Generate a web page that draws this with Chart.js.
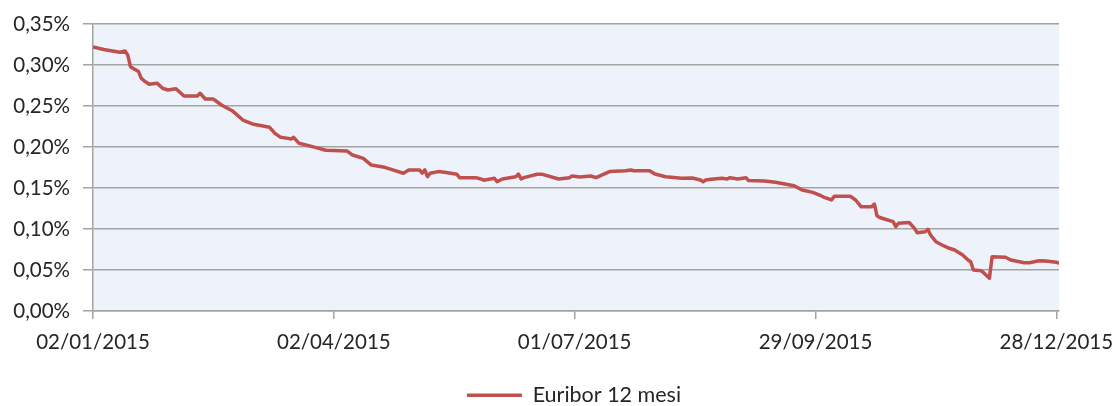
<!DOCTYPE html>
<html>
<head>
<meta charset="utf-8">
<script src="https://cdn.jsdelivr.net/npm/chart.js@4"></script>
<style>
  html, body { margin: 0; padding: 0; background: #ffffff; }
  #wrap { width: 1116px; height: 406px; position: relative; }
</style>
</head>
<body>
<div id="wrap"><canvas id="c" width="1116" height="406"></canvas></div>
<script>
// ---- data ----
const seriesName = "Euribor 12 mesi";
const dates = [
  "2015-01-02","2015-01-06","2015-01-12","2015-01-14","2015-01-15","2015-01-16","2015-01-19","2015-01-20","2015-01-21","2015-01-23",
  "2015-01-26","2015-01-28","2015-01-30","2015-02-02","2015-02-05","2015-02-10","2015-02-11","2015-02-13","2015-02-16","2015-02-19",
  "2015-02-23","2015-02-27","2015-03-03","2015-03-09","2015-03-11","2015-03-13","2015-03-16","2015-03-17","2015-03-18","2015-03-20",
  "2015-03-25","2015-03-30","2015-04-07","2015-04-09","2015-04-13","2015-04-16","2015-04-21","2015-04-24","2015-04-28","2015-04-30",
  "2015-05-04","2015-05-05","2015-05-06","2015-05-07","2015-05-08","2015-05-11","2015-05-14","2015-05-18","2015-05-19","2015-05-25",
  "2015-05-27","2015-05-28","2015-06-01","2015-06-02","2015-06-04","2015-06-09","2015-06-10","2015-06-11","2015-06-12","2015-06-17",
  "2015-06-19","2015-06-25","2015-06-29","2015-06-30","2015-07-03","2015-07-07","2015-07-09","2015-07-14","2015-07-20","2015-07-22",
  "2015-07-23","2015-07-29","2015-07-31","2015-08-04","2015-08-10","2015-08-14","2015-08-17","2015-08-18","2015-08-19","2015-08-21",
  "2015-08-25","2015-08-27","2015-08-28","2015-08-31","2015-09-03","2015-09-04","2015-09-10","2015-09-14","2015-09-18","2015-09-21",
  "2015-09-24","2015-09-28","2015-10-01","2015-10-02","2015-10-05","2015-10-06","2015-10-12","2015-10-14","2015-10-16","2015-10-20",
  "2015-10-21","2015-10-22","2015-10-23","2015-10-26","2015-10-28","2015-10-29","2015-10-30","2015-11-03","2015-11-05","2015-11-06",
  "2015-11-09","2015-11-10","2015-11-11","2015-11-13","2015-11-16","2015-11-18","2015-11-20","2015-11-23","2015-11-25","2015-11-26",
  "2015-11-27","2015-11-30","2015-12-01","2015-12-03","2015-12-04","2015-12-09","2015-12-11","2015-12-16","2015-12-18","2015-12-21",
  "2015-12-22","2015-12-24","2015-12-28","2015-12-29"
];
const rates = [
  0.322,0.319,0.3155,0.317,0.312,0.298,0.292,0.284,0.281,0.2765,
  0.2777,0.2716,0.2695,0.2711,0.2622,0.2622,0.2655,0.2585,0.2585,0.2512,
  0.2443,0.2329,0.2277,0.224,0.2167,0.212,0.2105,0.2098,0.2118,0.2045,
  0.2004,0.196,0.195,0.1902,0.1862,0.178,0.1752,0.172,0.168,0.172,
  0.172,0.168,0.172,0.1638,0.168,0.170,0.169,0.1667,0.1626,0.1626,
  0.161,0.1595,0.1618,0.1577,0.161,0.1638,0.167,0.161,0.1626,0.1667,
  0.1667,0.161,0.1626,0.1646,0.1634,0.1646,0.1626,0.170,0.171,0.172,
  0.171,0.171,0.167,0.1638,0.1618,0.1622,0.1598,0.1577,0.1598,0.1606,
  0.1618,0.161,0.1626,0.161,0.1626,0.159,0.1585,0.157,0.1545,0.1528,
  0.1476,0.1447,0.1406,0.139,0.1354,0.140,0.140,0.1354,0.1272,0.1272,
  0.1305,0.116,0.114,0.111,0.109,0.1028,0.107,0.108,0.1008,0.0955,
  0.0967,0.0996,0.0927,0.0845,0.0793,0.0765,0.0744,0.0683,0.0622,0.0601,
  0.050,0.0491,0.046,0.0399,0.0663,0.0655,0.0622,0.0589,0.0589,0.061,
  0.0614,0.061,0.0595,0.058
];
const xTickLabels = ["02/01/2015","02/04/2015","01/07/2015","29/09/2015","28/12/2015"];
const yTicks = [0, 0.05, 0.10, 0.15, 0.20, 0.25, 0.30, 0.35];

// ---- helpers ----
const DAY = 86400000;
const origin = Date.UTC(2015, 0, 2);
function isoToDay(s) { const p = s.split("-"); return (Date.UTC(+p[0], +p[1]-1, +p[2]) - origin) / DAY; }
function itToDay(s) { const p = s.split("/"); return (Date.UTC(+p[2], +p[1]-1, +p[0]) - origin) / DAY; }
function dayToIt(d) {
  const t = new Date(origin + d * DAY);
  const dd = String(t.getUTCDate()).padStart(2,"0"), mm = String(t.getUTCMonth()+1).padStart(2,"0");
  return dd + "/" + mm + "/" + t.getUTCFullYear();
}
const points = dates.map((d, i) => ({ x: isoToDay(d), y: rates[i] }));
const xTickValues = xTickLabels.map(itToDay);

const FONT = "Lato, 'Open Sans', sans-serif";
const GRID = "#A3A3A3";
const TEXT = "#262626";

const plotBg = {
  id: "plotBg",
  beforeDraw(chart) {
    const a = chart.chartArea, ctx = chart.ctx;
    ctx.save();
    ctx.fillStyle = "#EEF2FA";
    ctx.fillRect(a.left, a.top, a.right - a.left, a.bottom - a.top);
    ctx.restore();
  }
};

// place the legend box: centred a little right of the canvas centre and lower
const legendPlace = {
  id: "legendPlace",
  afterLayout(chart) {
    const lg = chart.legend;
    if (!lg) return;
    lg.left = chart.chartArea.left - 4;
    lg.right = chart.chartArea.right;
    lg.top += 10;
    lg.bottom += 10;
  }
};

new Chart(document.getElementById("c"), {
  type: "line",
  data: {
    datasets: [{
      label: seriesName,
      data: points,
      borderColor: "#C0504D",
      backgroundColor: "#C0504D",
      borderWidth: 3.5,
      pointRadius: 0,
      tension: 0,
      borderJoinStyle: "round"
    }]
  },
  options: {
    responsive: false,
    animation: false,
    devicePixelRatio: 1,
    layout: { padding: { left: 0, right: 57, top: 24, bottom: 0 } },
    plugins: {
      legend: {
        position: "bottom",
        labels: {
          usePointStyle: true,
          pointStyle: "line",
          pointStyleWidth: 55,
          boxWidth: 55,
          color: TEXT,
          font: { family: FONT, size: 21.5 },
          padding: 10
        }
      },
      tooltip: { enabled: false }
    },
    scales: {
      x: {
        type: "linear",
        min: xTickValues[0],
        max: isoToDay(dates[dates.length - 1]),
        afterBuildTicks(scale) { scale.ticks = xTickValues.map(v => ({ value: v })); },
        afterFit(scale) { scale.height = 53.5; scale.paddingLeft = 0; scale.paddingRight = 0; },
        ticks: {
          callback: v => dayToIt(v),
          color: TEXT,
          font: { family: FONT, size: 20.5 },
          padding: 11,
          maxRotation: 0,
          autoSkip: false
        },
        grid: { drawOnChartArea: false, drawTicks: true, tickLength: 8, color: GRID, lineWidth: 1.5 },
        border: { display: true, color: GRID, width: 1.5 }
      },
      y: {
        min: 0,
        max: 0.35,
        afterBuildTicks(scale) { scale.ticks = yTicks.map(v => ({ value: v })); },
        afterFit(scale) { scale.width = 93; scale.paddingTop = 0; scale.paddingBottom = 0; },
        ticks: {
          callback: v => v.toFixed(2).replace(".", ",") + "%",
          color: TEXT,
          font: { family: FONT, size: 20.5 },
          padding: 13
        },
        grid: { color: GRID, lineWidth: 1.5, tickLength: 10, drawTicks: true },
        border: { display: true, color: GRID, width: 1.5 }
      }
    }
  },
  plugins: [plotBg, legendPlace]
});
</script>
</body>
</html>
